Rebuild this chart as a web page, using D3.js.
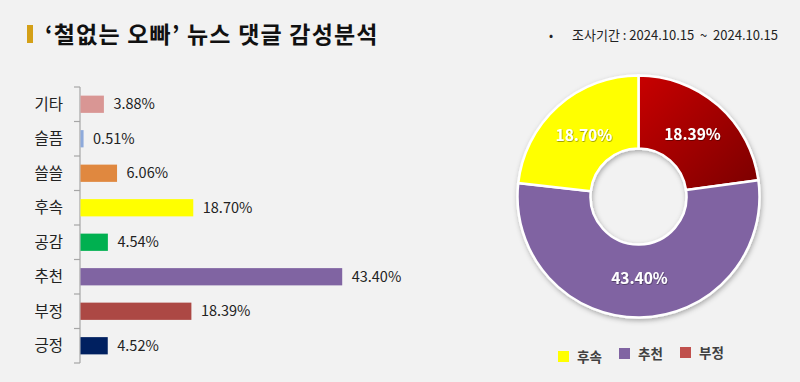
<!DOCTYPE html>
<html><head><meta charset="utf-8">
<script src="https://cdn.jsdelivr.net/npm/d3@7"></script>
<style>
html,body{margin:0;padding:0;background:#f2f2f2;}
svg{display:block;font-family:"Noto Sans CJK KR","Noto Sans",sans-serif;}
</style></head>
<body>
<svg id="c" width="800" height="382"></svg>
<script>
const titleText = "‘철없는 오빠’ 뉴스 댓글 감성분석";
const periodText = "조사기간 : 2024.10.15  ~  2024.10.15";
const barCategories = ["기타","슬픔","쓸쓸","후속","공감","추천","부정","긍정"];
const barValues = [3.88,0.51,6.06,18.70,4.54,43.40,18.39,4.52];
const barColors = ["#d99694","#8eaadb","#e0883f","#ffff00","#00b050","#8064a2","#ac4844","#002060"];
const pieCategories = ["부정","추천","후속"];
const pieValues = [18.39,43.40,18.70];
const pieColors = ["url(#redGrad)","#8064a2","#ffff00"];
const legendOrder = ["후속","추천","부정"];
const legendColors = ["#ffff00","#8064a2","#c0504d"];

const svg = d3.select("#c");
svg.append("rect").attr("width",800).attr("height",382).attr("fill","#f2f2f2");

// title
svg.append("rect").attr("x",27).attr("y",25).attr("width",6).attr("height",18).attr("fill","#d4a017");
svg.append("text").attr("x",45).attr("y",43).attr("font-size",23).attr("font-weight",700)
  .attr("letter-spacing",1.2).attr("fill","#111").text(titleText);
svg.append("text").attr("x",549).attr("y",40).attr("font-size",12).attr("fill","#222").text("•");
svg.append("text").attr("x",572).attr("y",40).attr("font-size",13).attr("fill","#222")
  .style("white-space","pre").attr("xml:space","preserve").text(periodText);

// bar chart
const y = d3.scaleBand().domain(barCategories).range([87,363]).paddingInner(0.5).paddingOuter(0.25);
const x = d3.scaleLinear().domain([0,50]).range([80,381.5]);
const g = svg.append("g");
g.append("line").attr("x1",80).attr("x2",80).attr("y1",87).attr("y2",363).attr("stroke","#a6a6a6").attr("stroke-width",1.2);
const step = y.step();
d3.range(barCategories.length+1).forEach(i=>{
  const yy = 87 + i*step;
  g.append("line").attr("x1",74).attr("x2",80).attr("y1",yy).attr("y2",yy).attr("stroke","#a6a6a6").attr("stroke-width",1.2);
});
g.selectAll("text.cat").data(barCategories).join("text").attr("class","cat")
  .attr("x",63).attr("y",d=>y(d)+y.bandwidth()/2).attr("dy","0.36em")
  .attr("text-anchor","end").attr("font-size",15.5).attr("fill","#222").text(d=>d);
g.selectAll("rect.bar").data(barCategories).join("rect").attr("class","bar")
  .attr("x",x(0)+0.5).attr("y",d=>y(d)).attr("height",y.bandwidth())
  .attr("width",(d,i)=>x(barValues[i])-x(0))
  .attr("fill",(d,i)=>barColors[i]);
g.selectAll("text.val").data(barCategories).join("text").attr("class","val")
  .attr("x",(d,i)=>x(barValues[i])+10).attr("y",d=>y(d)+y.bandwidth()/2).attr("dy","0.36em")
  .attr("font-size",14.5).attr("fill","#222").text((d,i)=>barValues[i].toFixed(2)+"%");

// donut
const defs = svg.append("defs");
const grad = defs.append("linearGradient").attr("id","redGrad").attr("gradientUnits","userSpaceOnUse")
  .attr("x1",0).attr("y1",-121).attr("x2",121).attr("y2",0);
grad.append("stop").attr("offset","0").attr("stop-color","#c80000");
grad.append("stop").attr("offset","1").attr("stop-color","#780000");
const f = defs.append("filter").attr("id","sh").attr("x","-20%").attr("y","-20%").attr("width","140%").attr("height","140%");
f.append("feDropShadow").attr("dx",1).attr("dy",2).attr("stdDeviation",2.5).attr("flood-color","#000").attr("flood-opacity",0.3);
const ts = defs.append("filter").attr("id","tsh");
ts.append("feDropShadow").attr("dx",0.6).attr("dy",0.8).attr("stdDeviation",0.6).attr("flood-color","#000").attr("flood-opacity",0.45);

const cx=638.5, cy=196.5;
const pie = d3.pie().sort(null).value(d=>d)(pieValues);
const arc = d3.arc().innerRadius(48).outerRadius(121);
const labelArc = d3.arc().innerRadius(82).outerRadius(82);
const dg = svg.append("g").attr("transform",`translate(${cx},${cy})`);
dg.append("g").attr("filter","url(#sh)").selectAll("path").data(pie).join("path")
  .attr("d",arc).attr("fill",(d,i)=>pieColors[i]).attr("stroke","#fff").attr("stroke-width",2.5);
dg.selectAll("text").data(pie).join("text")
  .attr("transform",d=>{const c=labelArc.centroid(d);return `translate(${c[0]},${c[1]})`;})
  .attr("dy","0.36em").attr("text-anchor","middle").attr("font-size",15.5).attr("font-weight",700)
  .attr("fill","#fff").attr("filter","url(#tsh)").text((d,i)=>pieValues[i].toFixed(2)+"%");

// legend
const legX = [558,619,680];
const legY = [351,348,347];
const lg = svg.append("g");
legendOrder.forEach((name,i)=>{
  lg.append("rect").attr("x",legX[i]).attr("y",legY[i]).attr("width",11).attr("height",11).attr("fill",legendColors[i]);
  lg.append("text").attr("x",legX[i]+19).attr("y",legY[i]+11).attr("font-size",13.5).attr("font-weight",700)
    .attr("fill","#404040").text(name);
});
</script>
</body></html>
